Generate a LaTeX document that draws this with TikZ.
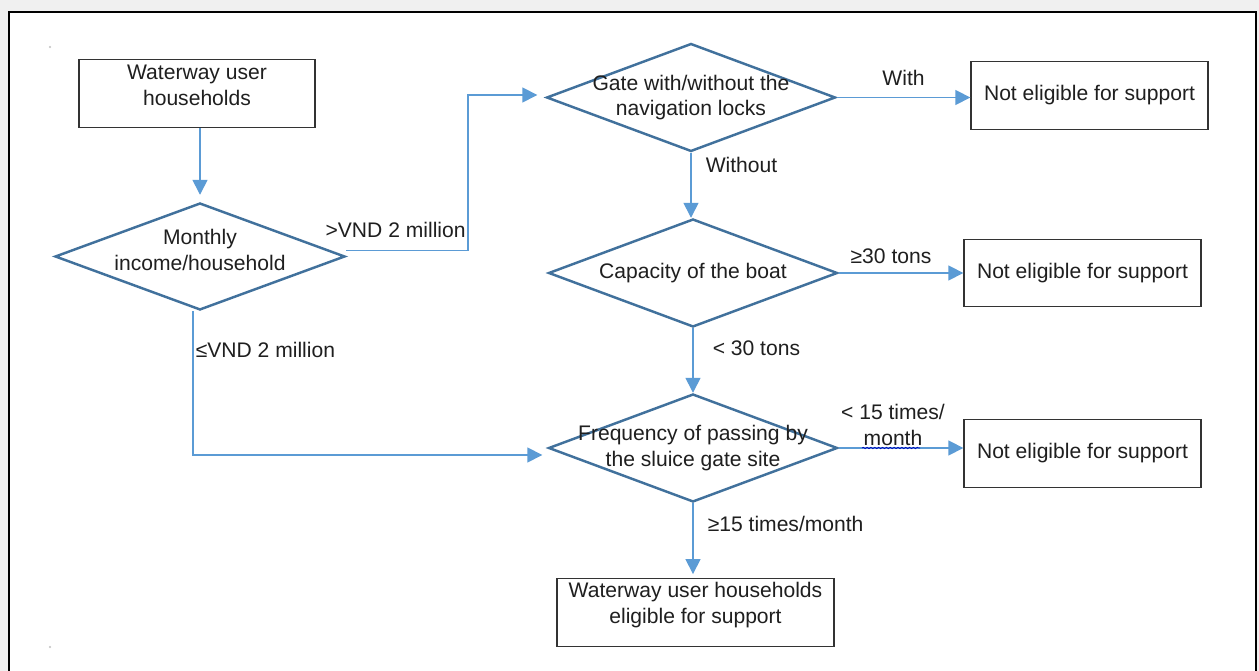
\documentclass[tikz,border=0pt]{standalone}
\usepackage{fontspec}
\setmainfont{Liberation Sans}
\usetikzlibrary{arrows.meta, shapes.geometric, decorations.pathmorphing}
\definecolor{azulrombo}{HTML}{41719C}
\definecolor{azulflecha}{HTML}{5B9BD5}
\definecolor{grisfondo}{HTML}{F0F0F0}
\definecolor{negrotexto}{HTML}{1F1F1F}
\colorlet{colRombo}{azulrombo}
\colorlet{colFlecha}{azulflecha}
\colorlet{colCaja}{black!80}
\colorlet{colTexto}{negrotexto}
\tikzset{
  textoBase/.style={font=\fontsize{12}{14.7}\selectfont, text=colTexto, align=center},
  cajaBase/.style={textoBase, draw=colCaja, line width=0.8pt, inner sep=0pt,
    minimum height=1.35cm, minimum width=4.74cm},
  cajaDecision/.style={textoBase, diamond, draw=colRombo, line width=1.4pt,
    inner xsep=-2cm, inner ysep=0pt, minimum width=5.78cm, minimum height=2.16cm},
  flecha/.style={-{Triangle[length=0.3cm, width=0.3cm]}, line width=0.9pt, colFlecha},
  etiquetaFlecha/.style={textoBase, inner sep=0pt},
}

\begin{document}
\begin{tikzpicture}[x=0.02cm, y=-0.02cm]
    % fondo y marco
    \useasboundingbox (0,0) rectangle (1259,671);
    \fill[grisfondo] (0,0) rectangle (1259,671);
    \draw[line width=1.3pt, fill=white] (9,12) rectangle (1256,700);
    \fill[gray!50] (50,47) circle (0.6pt);
    \fill[gray!50] (50,647) circle (0.6pt);

    \node[cajaBase, minimum width=4.72cm, text depth=9.5pt] (hogares) at (197,93.5) {Waterway user\\households};
    \node[cajaDecision, minimum width=5.8cm, minimum height=2.14cm, text depth=7.5pt] (ingreso) at (200,256.5) {Monthly\\income/household};
    \node[cajaDecision] (compuerta) at (691,97.5) {Gate with/without the\\navigation locks};
    \node[cajaDecision] (capacidad) at (693,273) {Capacity of the boat};
    \node[cajaDecision] (frecuencia) at (693,448) {Frequency of passing by\\the sluice gate site};
    \node[cajaBase] (noElegible1) at (1089.5,95.5) {Not eligible for support};
    \node[cajaBase] (noElegible2) at (1082.5,273) {Not eligible for support};
    \node[cajaBase] (noElegible3) at (1082.5,453.5) {Not eligible for support};
    \node[cajaBase, minimum width=5.54cm, text depth=11pt] (elegible) at (695.5,612.5) {Waterway user households\\eligible for support};

    \coordinate (codo1) at (468,95);

    \draw[flecha, shorten >=0.14cm] (hogares.south -| ingreso.north) -- (ingreso.north);
    \draw[flecha, shorten >=0.16cm] ([yshift=0.12cm]ingreso.east) -| node[etiquetaFlecha, pos=0.25, xshift=-0.23cm, yshift=0.42cm] {>VND 2 million} (codo1) -- (codo1 -| compuerta.west);
    \draw[flecha, shorten >=0.1cm] ([xshift=-0.14cm]ingreso.south) |- node[etiquetaFlecha, pos=0.134, anchor=west, xshift=0.04cm] {≤VND 2 million} ([yshift=-0.14cm]frecuencia.west);
    \draw[flecha] (compuerta.east) -- node[etiquetaFlecha, yshift=0.4cm] {With} (compuerta.east -| noElegible1.west);
    \draw[flecha] (compuerta.south) -- node[etiquetaFlecha, pos=0.19, anchor=west, xshift=0.28cm] {Without} (compuerta.south |- capacidad.north);
    \draw[flecha] (capacidad.east) -- node[etiquetaFlecha, xshift=-0.2cm, yshift=0.34cm] {≥30 tons} (capacidad.east -| noElegible2.west);
    \draw[flecha] (capacidad.south) -- node[etiquetaFlecha, pos=0.31, anchor=west, xshift=0.38cm] {< 30 tons} (capacidad.south |- frecuencia.north);
    \draw[flecha] (frecuencia.east) -- node[etiquetaFlecha, xshift=-0.16cm, yshift=0.46cm] (etqMenos15) {< 15 times/\\month} (frecuencia.east -| noElegible3.west);
    \draw[flecha, shorten >=0.08cm] (frecuencia.south) -- node[etiquetaFlecha, pos=0.28, anchor=west, xshift=0.28cm] {≥15 times/month} (frecuencia.south |- elegible.north);

    % subrayado ondulado
    \draw[decorate, decoration={snake, amplitude=0.4pt, segment length=2.2pt}, blue!75!black, line width=0.4pt] (862,448) -- (920,448);
\end{tikzpicture}
\end{document}
